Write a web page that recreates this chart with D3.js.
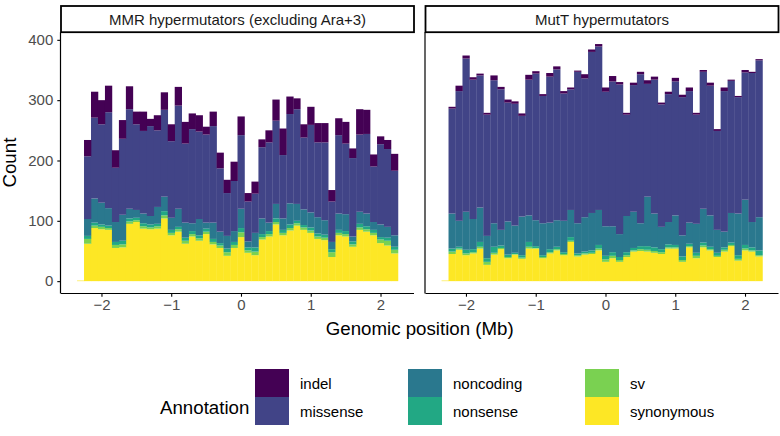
<!DOCTYPE html>
<html><head><meta charset="utf-8">
<script src="https://cdn.jsdelivr.net/npm/d3@7/dist/d3.min.js"></script>
<style>
body{margin:0;background:#fff}
svg{display:block}
text{font-family:"Liberation Sans",Arial,Helvetica,sans-serif}
</style>
</head><body>
<svg id="chart" width="780" height="436"></svg>
<script>
// ---------- DATA ----------
const binStarts = [-2.35,-2.25,-2.15,-2.05,-1.95,-1.85,-1.75,-1.65,-1.55,-1.45,-1.35,-1.25,-1.15,-1.05,-0.95,-0.85,-0.75,-0.65,-0.55,-0.45,-0.35,-0.25,-0.15,-0.05,0.05,0.15,0.25,0.35,0.45,0.55,0.65,0.75,0.85,0.95,1.05,1.15,1.25,1.35,1.45,1.55,1.65,1.75,1.85,1.95,2.05,2.15];
const binWidth = 0.1;
const annotations = ["indel","missense","noncoding","nonsense","sv","synonymous"];
const colors = ["#440154","#414487","#2A788E","#22A884","#7AD151","#FDE725"];
const panels = ["MMR hypermutators (excluding Ara+3)","MutT hypermutators"];
const xTicks = [-2,-1,0,1,2];
const yTicks = [0,100,200,300,400];

// MMR panel counts per bin
const mmr_synonymous = [1,62,88,86,85,55,56,95,98,87,86,87,104,76,82,62,74,67,78,61,55,42,55,73,47,43,69,74,94,76,84,92,85,80,70,68,40,76,74,57,85,82,76,63,59,46];
const mmr_sv         = [0,8,4,4,3,5,5,4,3,4,3,4,5,4,4,5,4,4,4,4,4,6,5,8,4,6,4,4,4,4,4,4,4,4,4,4,8,4,4,4,4,4,4,6,8,6];
const mmr_nonsense   = [0,5,5,4,4,5,6,5,4,5,5,4,7,5,4,5,5,5,5,5,4,6,5,7,5,7,5,5,6,5,6,4,4,5,5,5,5,5,5,5,6,5,5,4,5,5];
const mmr_noncoding  = [0,28,40,36,29,33,43,16,13,16,14,28,24,20,30,25,13,27,10,27,19,21,18,32,10,24,26,14,24,19,35,28,26,25,27,24,12,27,28,8,20,21,13,21,18,19];
const mmr_missense   = [0,104,134,130,159,90,126,165,142,137,149,127,144,127,171,131,156,145,146,160,105,71,83,122,66,65,118,133,138,105,148,157,119,145,124,129,67,130,117,130,128,132,92,133,129,107];
const mmr_indel      = [0,27,43,40,44,29,31,38,21,32,12,25,29,28,31,36,26,27,13,24,26,22,32,31,14,20,13,20,35,44,29,18,22,30,32,32,19,28,36,16,42,40,20,13,15,28];

// MutT panel counts per bin
const mutt_synonymous = [1,45,52,43,46,54,27,44,53,38,44,37,54,54,38,46,51,43,65,41,44,45,51,32,38,32,40,49,50,49,47,45,54,54,32,56,38,56,51,40,49,58,34,51,49,41];
const mutt_sv         = [0,4,2,3,2,3,5,3,2,2,1,2,3,1,2,2,2,2,2,2,2,2,3,4,4,3,3,2,3,3,3,3,2,2,3,2,4,3,2,2,3,2,3,3,2,2];
const mutt_nonsense   = [0,5,3,6,5,8,6,10,4,4,2,4,8,3,3,5,4,3,6,3,3,4,6,6,6,5,5,4,5,6,6,5,5,4,6,4,5,5,4,5,4,4,6,6,5,8];
const mutt_noncoding  = [0,58,43,63,50,57,37,39,26,55,45,64,44,43,53,44,44,52,45,50,57,62,58,49,43,38,60,60,38,82,56,37,37,49,35,35,48,56,52,38,26,49,69,75,42,55];
const mutt_missense   = [0,174,215,254,231,219,201,237,233,197,202,167,225,243,211,242,250,211,200,251,230,267,271,223,240,248,168,210,247,187,222,203,212,222,229,218,181,227,215,164,233,219,193,211,247,260];
const mutt_indel      = [0,3,9,5,4,3,3,8,4,5,4,4,8,4,3,6,5,4,3,2,7,4,4,7,9,4,3,4,4,6,5,3,4,6,4,6,3,3,5,3,6,2,2,4,2,2];

// ---------- BUILD TABLES ----------
function buildRows(series){
  return binStarts.map((b,i)=>{
    const r = {x0:b, x1:b+binWidth};
    annotations.forEach((a,j)=> r[a] = series[j][i]);
    return r;
  });
}
const panelData = [
  buildRows([mmr_indel,mmr_missense,mmr_noncoding,mmr_nonsense,mmr_sv,mmr_synonymous]),
  buildRows([mutt_indel,mutt_missense,mutt_noncoding,mutt_nonsense,mutt_sv,mutt_synonymous])
];
const stackOrder = annotations.slice().reverse();
const stack = d3.stack().keys(stackOrder);

// ---------- LAYOUT ----------
const svg = d3.select("#chart");
const panelW = 353, panelTop = 32.2, panelBottom = 293;
const panelLefts = [61, 425.5];
const stripTop = 6;
const color = d3.scaleOrdinal().domain(annotations).range(colors);

const allTotals = panelData.flatMap(rows => rows.map(r => d3.sum(annotations, a => r[a])));
const yMax = d3.max(allTotals);
const xMin = d3.min(binStarts), xMax = d3.max(binStarts) + binWidth;
const xPad = (xMax - xMin) * 0.05, yPad = yMax * 0.05;

const y = d3.scaleLinear().domain([-yPad, yMax + yPad]).range([panelBottom, panelTop]);

panelData.forEach((rows, p) => {
  const L = panelLefts[p];
  const x = d3.scaleLinear().domain([xMin - xPad, xMax + xPad]).range([L, L + panelW]);
  const g = svg.append("g");
  const series = stack(rows);
  g.selectAll("g.layer").data(series).join("g")
    .attr("fill", d => color(d.key))
    .selectAll("rect").data(d => d).join("rect")
    .attr("x", d => x(d.data.x0))
    .attr("width", d => x(d.data.x1) - x(d.data.x0) + 0.3)
    .attr("y", d => y(d[1]))
    .attr("height", d => Math.max(0, y(d[0]) - y(d[1])));

  const xAxis = d3.axisBottom(x).tickValues(xTicks).tickSize(3.7).tickPadding(3)
    .tickFormat(d => d < 0 ? "\u2212" + Math.abs(d) : String(d));
  const gx = svg.append("g").attr("transform", `translate(0,${panelBottom})`).call(xAxis);
  gx.select(".domain").attr("d", `M${L},0.5H${L+panelW}`).attr("stroke","#000").attr("stroke-width",1.2);
  gx.selectAll(".tick line").attr("stroke","#000").attr("stroke-width",1.1);
  gx.selectAll(".tick text").attr("fill","#4D4D4D").attr("font-size","15px")
    .attr("font-family","'Liberation Sans',Arial,sans-serif");

  const yAxis = d3.axisLeft(y).tickValues(yTicks).tickSize(3.7).tickPadding(4);
  if (p === 1) yAxis.tickFormat("").tickSize(0);
  const gy = svg.append("g").attr("transform", `translate(${L},0)`).call(yAxis);
  gy.select(".domain").attr("d", `M-0.5,${panelTop}V${panelBottom+0.5}`).attr("stroke","#000").attr("stroke-width",1.2);
  gy.selectAll(".tick line").attr("stroke","#000").attr("stroke-width",1.1);
  gy.selectAll(".tick text").attr("fill","#4D4D4D").attr("font-size","15px")
    .attr("font-family","'Liberation Sans',Arial,sans-serif");

  svg.append("rect").attr("x", L).attr("y", stripTop).attr("width", panelW).attr("height", panelTop - stripTop)
    .attr("fill","#fff").attr("stroke","#000").attr("stroke-width",1.8);
  svg.append("text").attr("x", L + panelW/2).attr("y", (stripTop + panelTop)/2)
    .attr("text-anchor","middle").attr("dominant-baseline","central")
    .attr("font-size","15px").attr("fill","#1A1A1A").text(panels[p]);
});

svg.append("text").attr("x", (panelLefts[0] + panelLefts[1] + panelW)/2).attr("y", 335)
  .attr("text-anchor","middle").attr("font-size","18.7px").attr("fill","#000").text("Genomic position (Mb)");
svg.append("text").attr("transform", `translate(16,${(panelTop+panelBottom)/2}) rotate(-90)`)
  .attr("text-anchor","middle").attr("font-size","18.7px").attr("fill","#000").text("Count");

const legend = svg.append("g");
const keyW = 34, keyH = 28, legTop = 369;
const colX = [255, 408, 585];
legend.append("text").attr("x", 160).attr("y", legTop + keyH + 10).attr("dominant-baseline","central")
  .attr("font-size","18.7px").attr("fill","#000").text("Annotation");
annotations.forEach((a, i) => {
  const c = Math.floor(i / 2), r = i % 2;
  legend.append("rect").attr("x", colX[c]).attr("y", legTop + r*keyH).attr("width", keyW).attr("height", keyH)
    .attr("fill", color(a));
  legend.append("text").attr("x", colX[c] + keyW + 11).attr("y", legTop + r*keyH + keyH/2)
    .attr("dominant-baseline","central").attr("font-size","15px").attr("fill","#000").text(a);
});
</script>
</body></html>
